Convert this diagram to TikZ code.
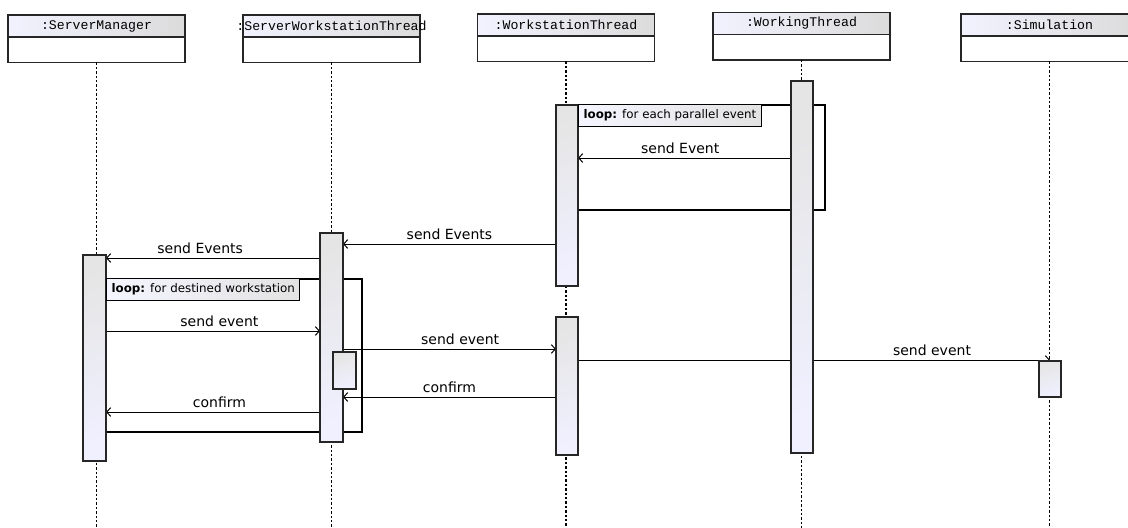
\documentclass[tikz,border=0pt]{standalone}
\usepackage{fontspec}
\setmainfont{DejaVu Sans}
\setmonofont{Liberation Mono}
\usetikzlibrary{fit,arrows.meta}

\begin{document}
\begin{tikzpicture}[x=0.75pt,y=-0.75pt,font=\fontsize{10.5}{12}\selectfont,
  head/.style={draw=black!85,line width=1.2pt,inner sep=0pt,outer sep=0pt,minimum width=132.75pt,minimum height=16.5pt,left color=blue!5,right color=gray!28,font=\ttfamily\fontsize{9.9}{11}\selectfont},
  headlow/.style={draw=black!85,line width=1.2pt,inner sep=0pt,outer sep=0pt,minimum width=132.75pt,minimum height=19pt,fill=white},
  life/.style={line width=1.3pt,dash pattern=on 1.8pt off 1.5pt},
  frame/.style={draw,line width=0.8pt,inner sep=0pt},
  bar/.style={draw=black!85,line width=1.3pt,inner sep=0pt,top color=gray!20,bottom color=blue!6,shading angle=20},
  looplbl/.style={draw,line width=0.8pt,outer sep=0pt,left color=blue!4,right color=gray!22,inner xsep=3.5pt,inner ysep=0pt,minimum height=16.5pt,font=\fontsize{8.9}{10}\selectfont},
  msg/.style={line width=0.75pt,-{Straight Barb[length=3pt,width=6.5pt]}},
  lbl/.style={inner sep=3pt}]
  \useasboundingbox (0,0) rectangle (1128,528);
  \clip (0,0) rectangle (1128,528);
  \node[head] (sm) at (96.5,26) {:ServerManager};
  \node[headlow,anchor=north] (smb) at (sm.south) {};
  \node[head] (swt) at (331.5,26) {\makebox[0pt]{:ServerWorkstationThread}};
  \node[headlow,anchor=north] (swtb) at (swt.south) {};
  \node[head] (wst) at (566,25) {:WorkstationThread};
  \node[headlow,anchor=north] (wstb) at (wst.south) {};
  \node[head] (wkt) at (801.5,23.5) {:WorkingThread};
  \node[headlow,anchor=north] (wktb) at (wkt.south) {};
  \node[head] (sim) at (1049.5,25) {:Simulation};
  \node[headlow,anchor=north] (simb) at (sim.south) {};
  \foreach \n in {smb,swtb,wstb,wktb,simb}
    \draw[life] (\n.south) -- (\n.south |- 0,528);
  \node[frame,fit={(567,105) (825,210)}] (loopa) {};
  \node[frame,fit={(94,279) (362,432)}] (loopb) {};
  \draw[msg] (791,158) -- node[lbl,above,pos=0.52]{send Event} (578,158);
  \draw[msg] (556,244) -- node[lbl,above]{send Events} (343,244);
  \draw[msg] (320,258) -- node[lbl,above,pos=0.56]{send Events} (106,258);
  \draw[msg] (106,331) -- node[lbl,above,pos=0.53]{send event} (320,331);
  \draw[msg] (343,349) -- node[lbl,above,pos=0.55]{send event} (556,349);
  \draw[msg] (578,360) -- node[lbl,above,pos=0.75]{send event} (1050,360);
  \draw[msg] (556,397) -- node[lbl,above]{confirm} (343,397);
  \draw[msg] (320,412) -- node[lbl,above,pos=0.47]{confirm} (106,412);
  \node[bar,fit={(791,81) (813,453)}] (wk1) {};
  \node[bar,fit={(556,105) (578,286)}] (ws1) {};
  \node[bar,fit={(556,317) (578,455)}] (ws2) {};
  \node[bar,fit={(320,233) (343,442)}] (sw1) {};
  \node[bar,fit={(333,352) (356,389)}] (sw2) {};
  \node[bar,fit={(83,255) (106,461)}] (sm1) {};
  \node[bar,fit={(1039,361) (1061,397)}] (sim1) {};
  \node[looplbl,anchor=north west] (loopal) at (ws1.east |- loopa.north) {\textbf{loop:} for each parallel event};
  \node[looplbl,anchor=north west] (loopbl) at (sm1.east |- loopb.north) {\textbf{loop:} for destined workstation};
\end{tikzpicture}
\end{document}
